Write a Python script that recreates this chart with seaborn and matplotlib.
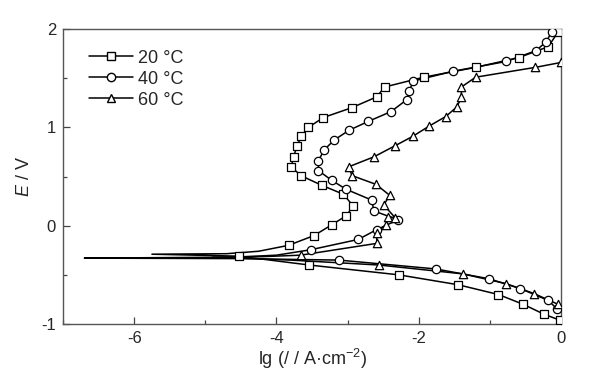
import numpy as np
import pandas as pd
import matplotlib
matplotlib.use("Agg")
import matplotlib.pyplot as plt
import seaborn as sns
from matplotlib.ticker import MultipleLocator

# ---- data ----
labels = ["20 °C", "40 °C", "60 °C"]

# 20 °C
cat20_lg = [-0.02, -0.24, -0.53, -0.88, -1.45, -2.28, -3.54, -4.53]
cat20_E = [-0.96, -0.90, -0.80, -0.70, -0.60, -0.50, -0.40, -0.31]
tip20_lg = [-5.75, -4.70, -4.25]
tip20_E = [-0.29, -0.285, -0.26]
an20_lg = [-3.83, -3.47, -3.22, -3.02, -2.92, -3.06, -3.36, -3.66, -3.79, -3.76,
           -3.71, -3.65, -3.55, -3.34, -2.94, -2.59, -2.48, -1.93, -1.20, -0.59,
           -0.18, -0.04]
an20_E = [-0.20, -0.10, 0.01, 0.10, 0.20, 0.32, 0.41, 0.51, 0.60, 0.70,
          0.81, 0.91, 1.00, 1.10, 1.20, 1.31, 1.41, 1.51, 1.61, 1.71,
          1.82, 1.97]

# 40 °C
cat40_lg = [-0.05, -0.18, -0.57, -1.01, -1.76, -3.12]
cat40_E = [-0.85, -0.76, -0.64, -0.54, -0.44, -0.35]
tip40_lg = [-4.50, -6.70, -4.60, -4.00]
tip40_E = [-0.335, -0.33, -0.32, -0.30]
an40_lg = [-3.52, -2.85, -2.59, -2.29, -2.63, -2.66, -3.02, -3.22, -3.41, -3.41,
           -3.33, -3.19, -2.98, -2.71, -2.39, -2.17, -2.13, -2.08, -1.52, -0.77,
           -0.35, -0.21, -0.13]
an40_E = [-0.245, -0.14, -0.04, 0.06, 0.15, 0.26, 0.37, 0.46, 0.56, 0.66,
          0.77, 0.87, 0.97, 1.06, 1.16, 1.28, 1.37, 1.47, 1.57, 1.67,
          1.78, 1.87, 1.97]

# 60 °C
cat60_lg = [-0.04, -0.38, -0.77, -1.38, -2.56]
cat60_E = [-0.80, -0.69, -0.59, -0.49, -0.40]
tip60_lg = [-3.80, -4.90, -4.20]
tip60_E = [-0.35, -0.32, -0.315]
an60_lg = [-3.66, -2.59, -2.59, -2.46, -2.43, -2.33, -2.49, -2.41, -2.60, -2.94,
           -2.98, -2.63, -2.34, -2.08, -1.86, -1.62, -1.46, -1.40, -1.40, -1.20,
           -0.36, 0.00]
an60_E = [-0.30, -0.18, -0.07, 0.01, 0.09, 0.08, 0.21, 0.31, 0.42, 0.51,
          0.60, 0.70, 0.81, 0.91, 1.01, 1.11, 1.21, 1.31, 1.41, 1.51,
          1.61, 1.66]

cat_lg = [cat20_lg, cat40_lg, cat60_lg]
cat_E = [cat20_E, cat40_E, cat60_E]
tip_lg = [tip20_lg, tip40_lg, tip60_lg]
tip_E = [tip20_E, tip40_E, tip60_E]
an_lg = [an20_lg, an40_lg, an60_lg]
an_E = [an20_E, an40_E, an60_E]
markers = ["s", "o", "^"]

sns.set_theme(style="ticks")
plt.rcParams["font.family"] = ["Liberation Sans", "DejaVu Sans"]
plt.rcParams["axes.unicode_minus"] = False
plt.rcParams["mathtext.fontset"] = "custom"
plt.rcParams["mathtext.rm"] = "Liberation Sans"
plt.rcParams["mathtext.it"] = "Liberation Sans:italic"

fig = plt.figure(figsize=(6.0, 3.72), dpi=100)
ax = fig.add_axes([0.105, 0.129, 0.83, 0.793])

for i in range(3):
    lg = list(cat_lg[i]) + list(tip_lg[i]) + list(an_lg[i])
    E = list(cat_E[i]) + list(tip_E[i]) + list(an_E[i])
    df = pd.DataFrame({"lg": lg, "E": E})
    sns.lineplot(data=df, x="lg", y="E", sort=False, estimator=None,
                 color="black", linewidth=1.1, ax=ax, legend=False)
    mdf = pd.DataFrame({"lg": list(cat_lg[i]) + list(an_lg[i]),
                        "E": list(cat_E[i]) + list(an_E[i])})
    sns.scatterplot(data=mdf, x="lg", y="E", marker=markers[i], s=36,
                    facecolor="white", edgecolor="black", linewidth=0.9,
                    ax=ax, legend=False, zorder=3)

handles = [plt.Line2D([], [], color="black", lw=1.1, marker=m, markersize=6,
                      markerfacecolor="white", markeredgecolor="black")
           for m in markers]
ax.legend(handles, labels, loc="upper left", bbox_to_anchor=(0.02, 0.985),
          frameon=False, fontsize=13, handlelength=2.4, handletextpad=0.3,
          labelspacing=0.22)

ax.set_xlim(-7, 0)
ax.set_ylim(-1, 2)
ax.xaxis.set_major_locator(MultipleLocator(2))
ax.xaxis.set_minor_locator(MultipleLocator(1))
ax.yaxis.set_major_locator(MultipleLocator(1))
ax.yaxis.set_minor_locator(MultipleLocator(0.5))
ax.tick_params(which="both", direction="in", top=False, right=False,
               labelsize=12, color="#444444")
ax.tick_params(which="major", length=5, width=0.9, pad=5)
ax.tick_params(which="minor", length=3, width=0.9)
for s in ax.spines.values():
    s.set_color("#555555")
    s.set_linewidth(1.0)
ax.set_xlabel("lg (/ / A·cm$^{-2}$)", fontsize=13, labelpad=1)
ax.set_ylabel("$E$ / V", fontsize=13, labelpad=6)

fig.savefig("out.png", dpi=100, facecolor="white")
